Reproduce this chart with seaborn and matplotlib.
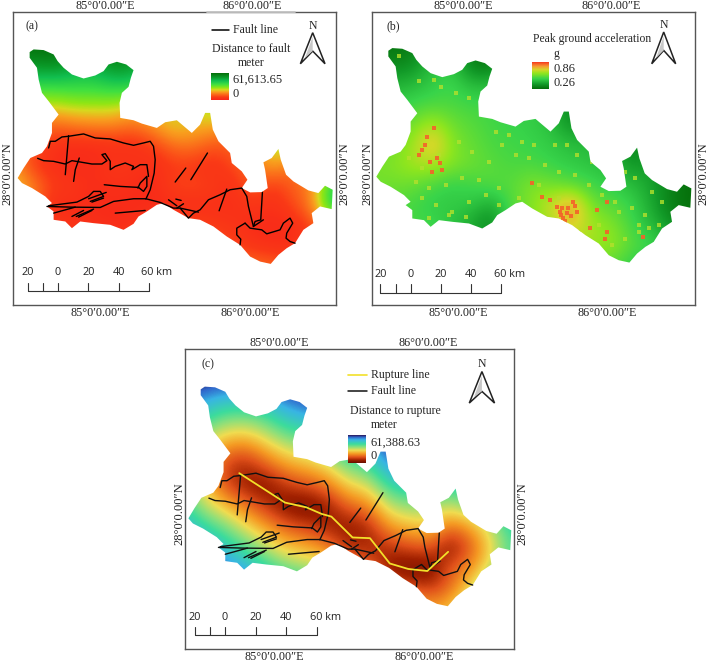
import matplotlib
matplotlib.use("Agg")
import matplotlib.pyplot as plt
from matplotlib.patches import Polygon
import numpy as np
import seaborn as sns

sns.set_style("white")
plt.rcParams['font.family'] = ['Liberation Serif', 'DejaVu Serif']

# district outline, map units
outline = [(88,158),(100,150),(130,152),(160,165),(172,185),(190,205),(215,225),(250,237),(285,228),(310,215),
           (325,195),(350,187),(378,195),(400,212),(392,235),(385,262),(365,280),(358,310),(360,355),(400,362),
           (425,372),(470,385),(495,368),(530,362),(575,400),(600,375),(615,340),(630,340),(638,390),(655,425),
           (690,460),(695,490),(725,515),(742,540),(725,565),(750,578),(785,577),(803,565),(795,510),(790,488),
           (815,475),(835,448),(842,480),(858,525),(880,545),(925,572),(955,580),(975,558),(998,570),(995,628),
           (960,620),(935,640),(940,670),(910,690),(885,730),(860,745),(835,765),(812,792),(780,785),(750,770),
           (720,735),(680,710),(640,680),(600,660),(565,655),(520,630),(490,610),(470,615),(440,635),(415,650),
           (400,672),(370,690),(330,675),(280,670),(240,665),(215,685),(195,665),(160,660),(160,635),(140,620),
           (155,610),(135,590),(95,565),(65,550),(52,535),(70,505),(90,475),(125,460),(140,440),(155,400),
           (155,370),(175,345),(145,305),(125,280),(115,240),(110,205),(88,175)]

faults = [
    [(145,445),(150,425),(165,425),(185,412),(205,410),(250,403),(285,415),(330,418),(370,430),(400,437),(430,430),(450,425),(460,440),(465,480),(462,520),(450,570),(437,598)],
    [(205,408),(195,525)],
    [(112,476),(130,483),(160,485),(195,493),(215,483),(240,487),(275,493),(305,493),(320,483),(305,465),(315,462),(330,485),(330,510),(345,500),(375,490),(400,500),(395,510),(420,495),(440,495),(445,530)],
    [(237,475),(225,510),(220,545)],
    [(312,555),(360,560),(415,563),(430,575),(440,560),(440,530),(420,550),(413,565)],
    [(140,620),(210,622),(300,623),(340,605),(400,597),(437,597),(480,608),(520,625),(540,625),(565,655),(580,640),(600,630),(625,600),(660,585),(690,570),(725,565),(740,590),(745,620),(755,660),(760,680)],
    [(145,618),(230,607),(265,590),(280,575),(300,575),(310,590),(270,605)],
    [(275,607),(310,595)],
    [(265,597),(318,578)],
    [(160,640),(225,622)],
    [(215,650),(250,632)],
    [(228,650),(280,628)],
    [(235,652),(275,632)],
    [(345,640),(435,632)],
    [(505,600),(530,618)],
    [(527,598),(543,602)],
    [(540,625),(595,637)],
    [(530,625),(550,612)],
    [(525,547),(557,505)],
    [(572,540),(622,460)],
    [(680,568),(657,633)],
    [(787,578),(782,660),(765,665),(760,680),(790,660)],
    [(735,670),(710,685),(710,705),(722,718),(720,735)],
    [(735,670),(750,685),(785,690),(800,702),(840,690),(850,670),(870,655),(878,670),(860,700),(858,715),(870,725),(885,730)],
]

rupture = [(201,403),(335,489),(398,503),(442,522),(471,530),(533,591),(584,593),(642,667),(696,683),(752,689),(813,633)]

# field values, percent of the legend range
# columns x = 40..1000 step 60, rows y = 140..800 step 60
dist_fault = [
    [95,100,100,95,90,95,95,80,60,50,40,35,30,30,30,30,30],
    [90,85,90,80,75,90,85,70,55,45,40,35,30,30,30,30,30],
    [70,60,60,62,62,65,65,50,45,42,40,35,30,30,30,30,30],
    [40,40,38,42,42,42,35,35,35,35,50,35,30,60,50,30,30],
    [25,22,18,22,24,24,20,28,38,33,32,25,25,60,50,30,30],
    [20,15,5,3,3,5,4,10,20,22,14,18,25,45,40,30,30],
    [30,10,5,3,5,8,8,4,10,8,6,12,22,30,20,25,45],
    [38,25,10,8,4,6,4,3,12,14,10,5,18,8,18,25,70],
    [30,20,3,5,3,3,3,3,3,3,5,5,8,5,12,25,70],
    [30,20,8,6,6,3,5,15,15,15,10,8,3,3,3,12,25],
    [30,25,15,15,15,15,15,20,20,20,18,12,8,5,6,12,15],
    [30,30,25,20,20,20,20,20,20,20,20,20,22,20,15,15,15],
]
pga = [
    [5,2,5,25,30,5,3,25,30,30,30,25,25,25,25,25,10],
    [10,10,12,30,35,5,3,30,32,32,30,25,25,25,25,25,10],
    [30,25,28,35,40,28,30,32,32,30,25,25,25,25,25,20,5],
    [35,35,40,42,42,40,40,36,35,30,5,25,25,25,20,15,5],
    [45,48,50,65,50,45,40,38,36,30,12,25,25,20,12,10,5],
    [48,50,60,85,55,48,42,40,38,35,30,28,25,8,15,8,5],
    [52,55,62,65,55,50,45,42,42,38,35,32,28,15,20,5,0],
    [52,50,50,42,36,40,45,45,55,50,45,40,35,30,20,8,0],
    [48,46,40,35,35,34,22,45,55,72,92,50,45,38,22,5,0],
    [42,42,42,40,32,20,8,45,55,62,78,62,55,40,28,15,5],
    [40,40,40,40,35,30,20,40,50,55,65,60,60,45,40,25,10],
    [40,40,40,40,35,30,30,40,45,50,50,50,45,35,30,25,10],
]
dist_rupture = [
    [100,100,98,97,98,100,100,100,100,100,100,100,100,100,100,100,100],
    [95,83,76,75,79,90,95,100,100,100,100,100,100,100,100,100,100],
    [79,64,55,53,60,72,76,83,99,100,100,100,100,100,100,100,100],
    [67,48,34,31,42,53,57,65,81,85,100,100,100,100,100,100,100],
    [60,38,17,11,23,34,39,46,62,67,89,95,94,83,97,100,100],
    [61,39,20,8,4,16,20,27,43,48,70,76,76,70,77,88,100],
    [69,52,39,27,15,4,1,8,24,29,51,57,55,49,60,68,85],
    [83,69,60,45,33,22,17,10,6,12,33,39,42,26,35,51,72],
    [99,88,75,64,51,40,36,29,13,10,14,20,23,5,22,44,66],
    [100,100,94,82,70,59,55,48,32,27,5,1,1,22,31,50,70],
    [100,100,100,100,89,78,74,67,51,46,24,21,15,25,45,70,86],
    [100,100,100,100,100,97,93,85,69,65,42,43,35,40,60,85,100],
]

# speckles in the acceleration raster
hot_x = [204,224,199,179,214,244,249,219,189,234,519,549,594,624,644,614,654,694,744,739,714,744,854,574,604,610,628,636,606,620,648]
hot_y = [415,390,440,470,490,495,515,520,455,480,555,595,625,645,610,660,640,690,700,720,635,610,715,605,640,628,628,652,650,668,622]
warm_x = [120,180,225,245,290,330,380,410,450,490,525,590,625,655,700,760,800,830,880,910,
          150,190,240,300,340,390,430,470,510,560,600,650,690,730,770,820,860,
          170,210,260,310,360,420,480,540,600,660,720,780,840,
          190,230,280,330,380,420,210,270,320,760,800,840,870,900]
warm_y = [175,250,245,265,285,300,350,400,410,430,440,440,440,470,490,510,520,540,580,610,
          480,510,470,430,460,490,440,470,480,500,520,530,560,590,610,630,650,
          550,570,560,540,545,570,600,560,600,700,680,640,680,
          600,620,640,610,590,620,660,650,655,740,720,700,690,680]

legend_a = ["Fault line", "Distance to fault", "meter", "61,613.65", "0"]
legend_b = ["Peak ground acceleration", "g", "0.86", "0.26"]
legend_c = ["Rupture line", "Fault line", "Distance to rupture", "meter", "61,388.63", "0"]
scale_labels = ["20", "0", "20", "40", "60 km"]
lon_labels = ["85°0′0.00″E", "86°0′0.00″E"]
lat_label = "28°0′0.00″N"

seg = matplotlib.colors.LinearSegmentedColormap.from_list
cmap_a = seg("fault", [(0, "#f8251a"), (.1, "#fa3a16"), (.2, "#fb6a1a"), (.3, "#f8a01e"), (.38, "#d8d81e"),
                       (.45, "#90e614"), (.58, "#40e040"), (.72, "#12c050"), (.85, "#0a9a28"), (1, "#056e0a")])
cmap_b = seg("pga", [(0, "#056e0a"), (.17, "#129a28"), (.38, "#38d44a"), (.58, "#8fe61e"), (.72, "#d6d828"),
                     (.85, "#f69a32"), (1, "#f63c1e")])
cmap_c = seg("rupture", [(0, "#6a0f00"), (.1, "#a02000"), (.2, "#e0501a"), (.33, "#f59a23"), (.45, "#f0dc50"),
                         (.57, "#8ee07a"), (.68, "#3cdc9c"), (.84, "#38b4e4"), (.93, "#3068cc"), (1, "#2c1a5c")])

W, H = 708, 662
fig = plt.figure(figsize=(W / 100, H / 100), dpi=100)


def make_ax(x0, x1, y0, y1):
    ax = fig.add_axes([x0 / W, 1 - y1 / H, (x1 - x0) / W, (y1 - y0) / H])
    ax.set_xticks([])
    ax.set_yticks([])
    for s in ax.spines.values():
        s.set_color("#555555")
        s.set_linewidth(1.0)
    return ax


def raster(ax, grid, cmap):
    im = ax.imshow(np.array(grid, dtype=float), cmap=cmap, vmin=0, vmax=100, extent=(10, 1030, 830, 110),
                   aspect='auto', interpolation='bicubic')
    im.set_clip_path(Polygon(outline, closed=True, transform=ax.transData))


def draw_lines(ax, lines, color, lw):
    for line in lines:
        xs, ys = zip(*line)
        sns.lineplot(x=list(xs), y=list(ys), sort=False, estimator=None, color=color, lw=lw, ax=ax, legend=False)


def north(ax, cx, top, half, notch, bottom, ny):
    ax.add_patch(Polygon([(cx, top), (cx - half, bottom), (cx, notch), (cx + half, bottom)], fc="white", ec="#222222", lw=1.1))
    ax.add_patch(Polygon([(cx, top + 12), (cx - half * .62, bottom - 18), (cx, notch)], fc="#c8c8c8", ec="none"))
    ax.text(cx, ny, "N", ha='center', va='center', fontsize=8.5)


def scalebar(ax, ticks, base, top, laby):
    ax.plot([ticks[0], ticks[-1]], [base, base], color="#333333", lw=.8)
    for t in ticks:
        ax.plot([t, t], [base, top], color="#333333", lw=.8)
    for t, s in zip([ticks[0], ticks[2], ticks[3], ticks[4]], scale_labels[:4]):
        ax.text(t, laby, s, ha='center', va='center', fontsize=7.8, family=['Open Sans', 'DejaVu Sans'], color="#222222")
    ax.text(ticks[5] + 25, laby, scale_labels[4], ha='center', va='center', fontsize=7.8, family=['Open Sans', 'DejaVu Sans'], color="#222222")


def colorbar(ax, cmap, x0, x1, y0, y1):
    grad = np.linspace(1, 0, 64).reshape(-1, 1)
    ax.imshow(grad, cmap=cmap, vmin=0, vmax=1, extent=(x0, x1, y1, y0), aspect='auto', zorder=3)


def coords(fx_top, fx_bot, left, right, y_top, y_bot):
    # text outside the frame, in figure pixels
    for i in range(2):
        fig.text(fx_top[i] / W, 1 - y_top / H, lon_labels[i], ha='center', va='center', fontsize=8.7, color="#222222")
        fig.text(fx_bot[i] / W, 1 - y_bot / H, lon_labels[i], ha='center', va='center', fontsize=8.7, color="#222222")
    cy = (y_top + y_bot) / 2 + 14
    fig.text(left / W, 1 - cy / H, lat_label, rotation=90, ha='center', va='center', fontsize=9, color="#222222")
    fig.text(right / W, 1 - cy / H, lat_label, rotation=90, ha='center', va='center', fontsize=9, color="#222222")


# (a)
ax = make_ax(13, 336, 12, 305)
raster(ax, dist_fault, cmap_a)
draw_lines(ax, faults, "black", 1.0)
ax.plot([635, 688], [92, 92], color="black", lw=1.1)
colorbar(ax, cmap_a, 633, 685, 220, 300)
ax.text(700, 92, legend_a[0], va='center', fontsize=8.5)
ax.text(752, 150, legend_a[1], ha='center', va='center', fontsize=8.5)
ax.text(752, 190, legend_a[2], ha='center', va='center', fontsize=8.5)
ax.text(698, 240, legend_a[3], va='center', fontsize=9)
ax.text(698, 283, legend_a[4], va='center', fontsize=9)
ax.text(96, 82, "(a)", ha='center', va='center', fontsize=8.5)
north(ax, 938, 100, 37, 155, 193, 80)
scalebar(ax, [82, 128, 173, 264, 355, 445], 872, 850, 818)
ax.plot([620, 885], [38, 38], color="#c4c4c4", lw=1.3, clip_on=False, zorder=5)
ax.set_xlim(38, 1008)
ax.set_ylim(915, 38)
coords([105, 252], [100, 250], 7, 344, 6, 313)

# (b)
ax = make_ax(372, 695, 12, 305)
raster(ax, pga, cmap_b)
sns.scatterplot(x=warm_x, y=warm_y, s=6, marker='s', color="#b4e02c", alpha=.8, linewidth=0, ax=ax, zorder=2)
sns.scatterplot(x=hot_x, y=hot_y, s=6, marker='s', color="#f4622a", alpha=.9, linewidth=0, ax=ax, zorder=2)
for coll in ax.collections:
    coll.set_clip_path(Polygon(outline, closed=True, transform=ax.transData))
colorbar(ax, cmap_b, 519, 569, 192, 272)
ax.text(700, 122, legend_b[0], ha='center', va='center', fontsize=8.4)
ax.text(594, 167, legend_b[1], ha='center', va='center', fontsize=8.5)
ax.text(585, 212, legend_b[2], va='center', fontsize=9)
ax.text(585, 254, legend_b[3], va='center', fontsize=9)
ax.text(104, 84, "(b)", ha='center', va='center', fontsize=8.5)
north(ax, 915, 102, 36, 157, 197, 82)
scalebar(ax, [64, 110, 155, 246, 336, 426], 882, 857, 827)
ax.set_xlim(39, 1009)
ax.set_ylim(919, 42)
coords([463, 611], [458, 607], 367, 703, 6, 313)

# (c)
ax = make_ax(185, 514, 349, 649)
raster(ax, dist_rupture, cmap_c)
draw_lines(ax, faults, "#111111", 1.0)
draw_lines(ax, [rupture], "#f2e02a", 1.3)
ax.plot([520, 576], [117, 117], color="#f2e02a", lw=1.2)
ax.plot([520, 576], [164, 164], color="#111111", lw=1.1)
colorbar(ax, cmap_c, 520, 571, 291, 372)
ax.text(586, 117, legend_c[0], va='center', fontsize=8.5)
ax.text(586, 164, legend_c[1], va='center', fontsize=8.5)
ax.text(657, 221, legend_c[2], ha='center', va='center', fontsize=8.5)
ax.text(626, 263, legend_c[3], ha='center', va='center', fontsize=8.5)
ax.text(586, 313, legend_c[4], va='center', fontsize=9)
ax.text(586, 353, legend_c[5], va='center', fontsize=9)
ax.text(109, 86, "(c)", ha='center', va='center', fontsize=8.5)
north(ax, 912, 106, 37, 164, 198, 83)
scalebar(ax, [70, 114, 159, 249, 339, 429], 876, 854, 825)
ax.set_xlim(42, 1006)
ax.set_ylim(917, 40)
coords([279, 428], [274, 424], 179, 522, 343, 657)

fig.savefig("out.png", dpi=100)
